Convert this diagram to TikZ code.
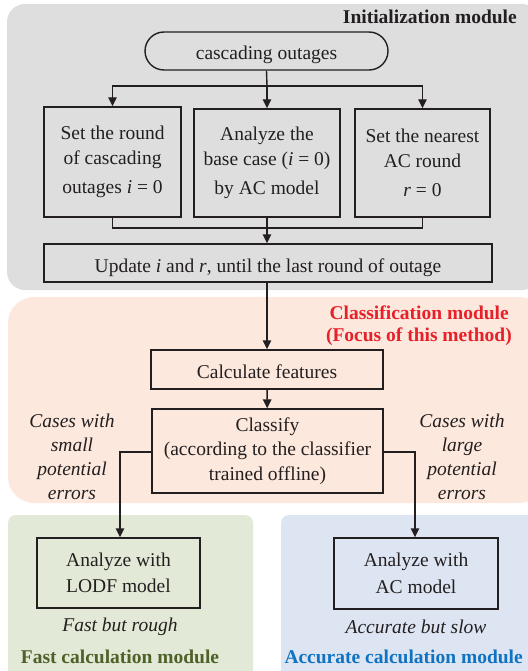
\documentclass[tikz,border=0pt]{standalone}
\usepackage{fontspec}
\setmainfont{Liberation Serif}
\usetikzlibrary{arrows.meta,shapes.misc}
\definecolor{ink}{HTML}{231F20}
\definecolor{initbg}{HTML}{DEDEDE}
\definecolor{classbg}{HTML}{FCE8DC}
\definecolor{fastbg}{HTML}{E2E9D6}
\definecolor{accbg}{HTML}{DDE5F2}
\definecolor{redt}{HTML}{E8202A}
\definecolor{greent}{HTML}{4E6128}
\definecolor{bluet}{HTML}{0F72C2}
\tikzset{
  txt/.style={font=\fontsize{19.5}{24.5}\selectfont, text=ink, align=center, inner sep=0pt},
  boxn/.style={txt, draw=ink, line width=1.4pt, minimum width=#1},
  oneline/.style={text height=18pt, text depth=0pt},
  ttl/.style={font=\fontsize{19.5}{24}\selectfont\bfseries, inner sep=0pt},
  note/.style={txt, font=\fontsize{19.5}{24}\selectfont\itshape},
  conn/.style={draw=ink, line width=1.4pt},
  arr/.style={conn, -{Triangle[length=9pt,width=8.5pt]}},
}
\begin{document}
\begin{tikzpicture}[x=1pt,y=-1pt]
\useasboundingbox (0,0) rectangle (527,671);
% regions
\fill[initbg, rounded corners=18pt] (7,4) rectangle (540,290);
\fill[classbg, rounded corners=26pt] (8,297) rectangle (545,503);
\fill[fastbg, rounded corners=8pt] (8,515) rectangle (253,690);
\fill[accbg, rounded corners=8pt] (281,515) rectangle (545,690);
% titles
\node[ttl, anchor=east, text=ink] (tinit) at (517,17) {Initialization module};
\node[ttl, anchor=east, text=redt] (tcls1) at (509,313) {Classification module};
\node[ttl, anchor=east, text=redt] (tcls2) at (512,337) {(Focus of this method)};
\node[ttl, text=greent] (tfast) at (120,657) {Fast calculation module};
\node[ttl, text=bluet, anchor=east] (tacc) at (523,657) {Accurate calculation module};
% nodes
\node[boxn=243pt, oneline, rounded rectangle, minimum height=38pt] (start) at (266.5,51) {cascading outages};
\node[boxn=137pt, minimum height=110pt] (b1) at (112.5,162) {Set the round\\of cascading\\[5pt]outages \textit{i} = 0};
\node[boxn=146pt, minimum height=108pt] (b2) at (267,163) {Analyze the\\base case (\textit{i} = 0)\\[5pt]by AC model};
\node[boxn=135pt, minimum height=108pt] (b3) at (422.5,163) {Set the nearest\\AC round\\[5pt]\textit{r} = 0};
\node[boxn=448pt, oneline, minimum height=38pt] (upd) at (268,263) {Update \textit{i} and \textit{r}, until the last round of outage};
\node[boxn=232pt, oneline, minimum height=39pt] (feat) at (267,369.5) {Calculate features};
\node[boxn=231pt, minimum height=84pt] (cls) at (267.5,451) {Classify\\(according to the classifier\\trained offline)};
\node[boxn=163pt, minimum height=70pt] (lodf) at (118.5,573) {Analyze with\\[2pt]LODF model};
\node[boxn=164pt, minimum height=71pt] (ac) at (416,573.5) {Analyze with\\[2pt]AC model};
% notes
\node[note] (nl) at (72,457) {Cases with\\small\\potential\\errors};
\node[note] (nr) at (462,457) {Cases with\\large\\potential\\errors};
\node[note] (nf) at (120,627) {Fast but rough};
\node[note] (na) at (416,627) {Accurate but slow};
% connectors
\coordinate (split) at (267,86);
\coordinate (merge) at (267,228);
\draw[conn] (start.south) -- (split);
\draw[arr] (split) -| (b1.north);
\draw[arr] (split) -- (b2.north);
\draw[arr] (split) -| (b3.north);
\draw[conn] (b1.south) |- (merge);
\draw[conn] (b3.south) |- (merge);
\draw[arr] (b2.south) -- (upd.north -| b2.south);
\draw[arr] (upd.south -| feat.north) -- (feat.north);
\draw[arr] (feat) -- (cls);
\draw[arr] (cls.west |- 0,452) -| (lodf.north -| 120,0);
\draw[arr] (cls.east |- 0,452) -| (ac.north -| 415,0);
\end{tikzpicture}
\end{document}
